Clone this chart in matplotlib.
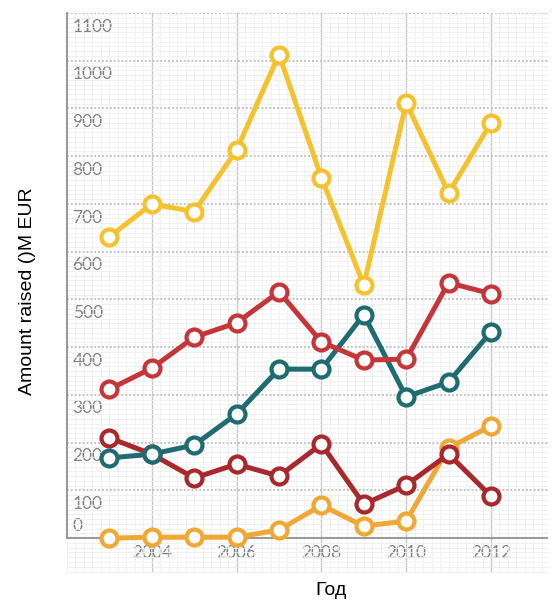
import numpy as np
import matplotlib.pyplot as plt
import matplotlib.transforms as mtransforms
from matplotlib.ticker import MultipleLocator

years = [2003, 2004, 2005, 2006, 2007, 2008, 2009, 2010, 2011, 2012]

# values (M EUR)
yellow = [631, 700, 684, 813, 1013, 755, 530, 912, 723, 870]
red = [312, 356, 421, 451, 516, 411, 373, 375, 535, 512]
teal = [168, 176, 195, 260, 354, 354, 468, 296, 327, 432]
darkred = [210, 176, 126, 155, 130, 197, 71, 111, 176, 88]
orange = [0, 2, 2, 2, 17, 69, 25, 36, 189, 235]

series = [
    (orange, "#F0A834"),
    (darkred, "#A8282B"),
    (teal, "#1F6B72"),
    (red, "#C5363A"),
    (yellow, "#F4C22E"),
]

y_ticks = list(range(0, 1200, 100))
x_ticks = [2004, 2006, 2008, 2010, 2012]

fig = plt.figure(figsize=(5.6, 6.01), dpi=100)
ax = fig.add_axes([67 / 560, 1 - 573 / 601, (548 - 67) / 560, (573 - 13) / 601])

for vals, col in series:
    ax.plot(years, vals, color=col, lw=3.6, marker="o", ms=11.5,
            mfc="white", mec=col, mew=3.0, zorder=3, solid_capstyle="round")

ax.set_xlim(2002, 2002 + (548 - 67) / 42.4)
ax.set_ylim(-73, 1100)

# graph-paper grid
ax.xaxis.set_major_locator(MultipleLocator(2))
ax.xaxis.set_minor_locator(MultipleLocator(0.2))
ax.yaxis.set_major_locator(MultipleLocator(100))
ax.yaxis.set_minor_locator(MultipleLocator(10))
ax.grid(which="minor", color="#efefef", lw=0.6)
ax.grid(which="major", axis="x", color="#c8c8c8", lw=1.0)
ax.grid(which="major", axis="y", color="#c4c4c4", lw=1.4, ls=(0, (1, 1)))
ax.axhline(0, color="#9a9a9a", lw=1.5, zorder=2)
ax.set_axisbelow(True)

for s in ["top", "right", "bottom"]:
    ax.spines[s].set_visible(False)
ax.spines["left"].set_color("#9a9a9a")
ax.spines["left"].set_linewidth(1.5)
ax.spines["left"].set_bounds(0, 1100)

ax.set_xticks(x_ticks)
ax.set_xticklabels([str(x) for x in x_ticks])
ax.set_yticks(y_ticks)
ax.set_yticklabels([str(v) for v in y_ticks])
ax.tick_params(which="both", length=0)
ax.tick_params(axis="x", pad=-20, labelsize=12.5, labelcolor="#808080")
ax.tick_params(axis="y", pad=-4, labelsize=12.5, labelcolor="#808080")

# labels sit a little below their gridline, the 0 sits above the axis
down = mtransforms.ScaledTranslation(0, -4 / 72, fig.dpi_scale_trans)
up = mtransforms.ScaledTranslation(0, 3 / 72, fig.dpi_scale_trans)
ylabs = ax.get_yticklabels()
for i, lab in enumerate(ylabs):
    lab.set_horizontalalignment("left")
    lab.set_fontfamily("Lato")
    if i == 0:
        lab.set_verticalalignment("bottom")
        lab.set_transform(lab.get_transform() + up)
    else:
        lab.set_verticalalignment("top")
        lab.set_transform(lab.get_transform() + down)
for lab in ax.get_xticklabels():
    lab.set_fontfamily("Lato")

fig.text(28 / 560, 1 - 291 / 601, "Amount raised ()M EUR", rotation=90,
         ha="center", va="center", fontsize=14, family="Liberation Sans")
fig.text(331 / 560, 2 / 601, "Год", ha="center", va="bottom",
         fontsize=14, family="Liberation Sans")

fig.savefig("out.png", dpi=100)
